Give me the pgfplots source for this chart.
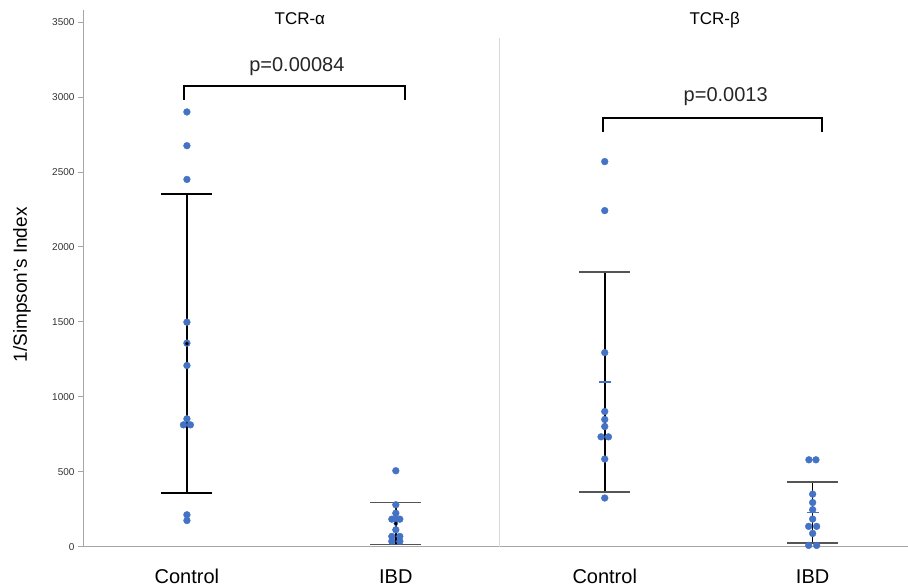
\documentclass[border=0pt]{standalone}
\usepackage{pgfplots}
\pgfplotsset{compat=1.18}
\usepackage{fontspec}
\setmainfont{Liberation Sans}
\definecolor{ptblue}{HTML}{4472C4}
\definecolor{axgray}{HTML}{A6A6A6}
\definecolor{capgray}{HTML}{555555}
\begin{document}
\begin{tikzpicture}
\begin{axis}[
 scale only axis, width=825pt, height=537pt,
 xmin=83, xmax=908, ymin=0, ymax=3580,
 axis x line=bottom, axis y line=left,
 axis line style={axgray, line width=0.8pt, -},
 ytick={0,500,1000,1500,2000,2500,3000,3500},
 yticklabel style={font=\fontsize{10}{12}\selectfont, text=black!80},
 ytick style={axgray, line width=0.8pt},
 tick align=outside, major tick length=5pt,
 xtick={187,396,605,813},
 xticklabels={Control,IBD,Control,IBD},
 xtick style={draw=none},
 xticklabel style={font=\fontsize{20}{24}\selectfont, anchor=base, yshift=-32pt},
 /pgf/number format/assume math mode=true,
 /pgf/number format/1000 sep={},
 clip=false,
 ylabel={1/Simpson’s Index},
 ylabel style={font=\fontsize{19}{23}\selectfont, at={(axis description cs:-0.0739,0.488)}, anchor=center},
]
% data points
\addplot[only marks, mark=*, mark size=3.4pt, draw=ptblue, fill=ptblue] coordinates {
 (187,2900) (187,2675) (187,2450) (187,1498) (187,1358) (187,1209) (187,853)
 (183.5,813) (190.5,813) (187,213) (187,175)
};
\addplot[only marks, mark=*, mark size=3.4pt, draw=ptblue, fill=ptblue] coordinates {
 (396,507) (396,280) (396,224) (392,184) (396,184) (400,184) (396,113)
 (392,69) (400,69) (392,36) (400,36)
};
\addplot[only marks, mark=*, mark size=3.4pt, draw=ptblue, fill=ptblue] coordinates {
 (605,2569) (605,2242) (605,1295) (605,902) (605,849) (605,802)
 (601.3,733) (608.7,733) (605,585) (605,325)
};
\addplot[only marks, mark=*, mark size=3.4pt, draw=ptblue, fill=ptblue] coordinates {
 (809.3,580) (816.3,580) (813,351) (813,295) (813,247) (813,185)
 (809,136) (817,136) (813,89) (809,9) (817,9)
};
% mean and SD bars
\addplot[only marks, mark=none, draw=ptblue,
 error bars/.cd, y dir=both, y explicit,
 error bar style={black, line width=1.6pt},
 error mark options={rotate=90, draw=black, line width=1.6pt, mark size=25.5pt}]
 coordinates {(187,1354.5) +- (0,996.5)};
\addplot[only marks, mark=none, draw=ptblue,
 error bars/.cd, y dir=both, y explicit,
 error bar style={black, line width=1.6pt},
 error mark options={rotate=90, draw=capgray, line width=1.6pt, mark size=25.5pt}]
 coordinates {(396,155) +- (0,140)};
\addplot[only marks, mark=-, mark size=6pt, draw=ptblue, line width=1.3pt,
 error bars/.cd, y dir=both, y explicit,
 error bar style={black, line width=1.6pt},
 error mark options={rotate=90, draw=capgray, line width=1.6pt, mark size=25.5pt}]
 coordinates {(605,1098) +- (0,733) (813,230) +- (0,203)};
% annotations
\draw[black!15, line width=0.8pt] (axis cs:500,0) -- (axis cs:500,3393);
\node[font=\fontsize{17}{20}\selectfont, anchor=base] at (axis cs:300,3480) {TCR-α};
\node[font=\fontsize{17}{20}\selectfont, anchor=base] at (axis cs:715,3480) {TCR-β};
\node[font=\fontsize{20}{24}\selectfont, text=black!85, anchor=base] at (axis cs:297,3173) {p=0.00084};
\node[font=\fontsize{20}{24}\selectfont, text=black!85, anchor=base] at (axis cs:726,2967) {p=0.0013};
\draw[black, line width=2.2pt] (axis cs:184,2980) -- (axis cs:184,3073) -- (axis cs:405,3073) -- (axis cs:405,2980);
\draw[black, line width=2.2pt] (axis cs:603,2767) -- (axis cs:603,2860) -- (axis cs:822,2860) -- (axis cs:822,2767);
\path (axis cs:0,-273.3) rectangle (axis cs:908,3646.7);
\end{axis}
\end{tikzpicture}
\end{document}
